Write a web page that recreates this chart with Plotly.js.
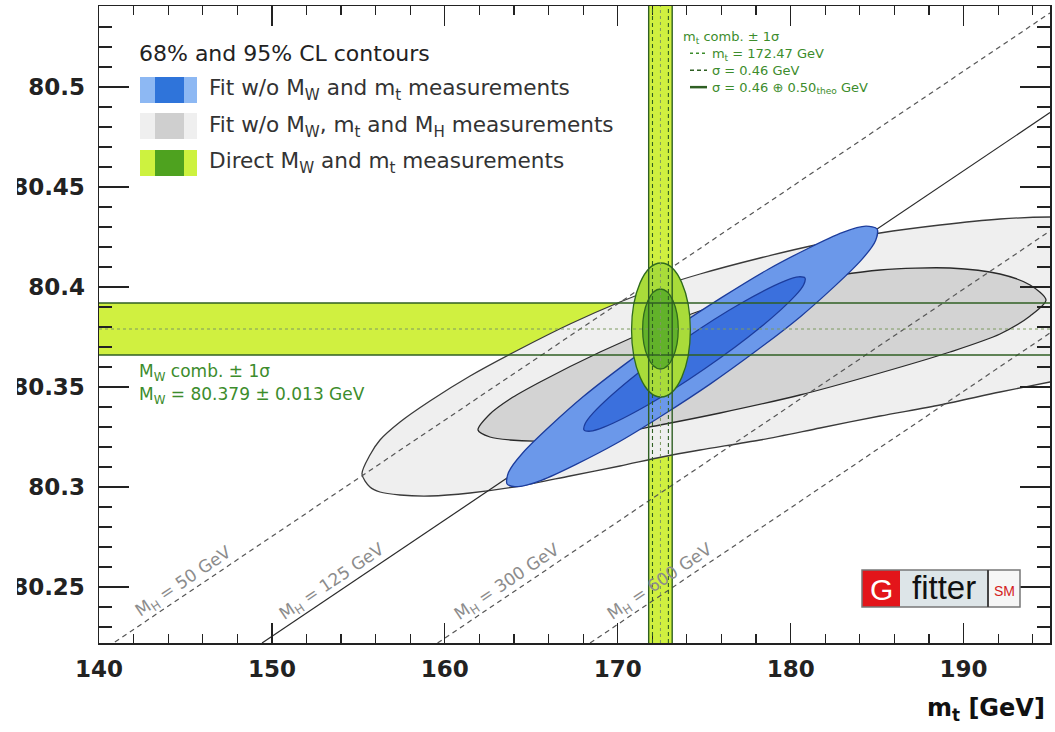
<!DOCTYPE html>
<html><head><meta charset="utf-8">
<script src="https://cdn.plot.ly/plotly-3.0.1.min.js"></script>
<style>html,body{margin:0;padding:0;background:#fff}#chart{width:1055px;height:732px}</style>
</head><body><div id="chart"></div>
<script>
// ---------------- data ----------------
const xRange = [140, 195];
const yRange = [80.222, 80.5405];

const mwComb = 80.379, mwCombErr = 0.013;
const mtComb = 172.47, mtCombErrExp = 0.46, mtCombErrTheo = 0.50, mtCombErrTot = 0.68;

// direct MW / mt contours (95% and 68% extents)
const directMt95 = [170.80, 174.20], directMw95 = [80.345, 80.412];
const directMt68 = [171.44, 173.50], directMw68 = [80.359, 80.399];

// fit w/o MW, mt and MH : 95% CL outline
const greyOuterMt = [178.23,181.70,185.17,188.64,192.11,195.00,197.89,203.68,208.31,210.39,208.31,203.68,197.89,195.00,192.11,188.64,185.17,181.70,178.23,174.76,172.56,170.13,167.24,164.35,161.46,159.14,157.41,156.25,155.67,155.21,155.67,156.25,157.41,159.14,161.46,164.35,167.24,170.13,172.56,174.76,178.23];
const greyOuterMw = [80.4145,80.4215,80.427,80.431,80.434,80.435,80.4345,80.430,80.4205,80.4035,80.3855,80.370,80.3575,80.3525,80.3475,80.341,80.3355,80.3295,80.3235,80.3185,80.315,80.3105,80.3055,80.3005,80.297,80.2955,80.296,80.2975,80.300,80.3065,80.316,80.3235,80.3325,80.343,80.3555,80.369,80.3815,80.3925,80.4005,80.4065,80.4145];
// fit w/o MW, mt and MH : 68% CL outline
const greyInnerMt = [175.92,180.54,185.17,189.22,192.11,193.85,194.77,193.85,192.11,189.22,185.17,180.54,175.92,172.45,168.98,165.51,163.77,162.61,161.92,162.61,163.77,165.51,168.98,172.45,175.92];
const greyInnerMw = [80.3915,80.4025,80.4085,80.4095,80.4065,80.401,80.3935,80.3855,80.3765,80.3675,80.357,80.346,80.337,80.331,80.3255,80.323,80.3235,80.325,80.3285,80.3365,80.344,80.3525,80.3675,80.3805,80.3915];
// fit w/o MW and mt : 95% CL outline
const blueOuterMt = [175.38,169.88,165.58,164.25,163.60,163.68,164.49,168.01,173.22,178.71,183.02,184.36,185.00,184.92,184.11,180.58,175.38];
const blueOuterMw = [80.3517,80.3216,80.3033,80.3002,80.3015,80.3072,80.3169,80.3452,80.3789,80.4089,80.4273,80.4304,80.4290,80.4234,80.4137,80.3853,80.3517];
// fit w/o MW and mt : 68% CL outline
const blueInnerMt = [175.03,171.76,169.20,168.42,168.05,168.12,168.61,170.73,173.85,177.13,179.68,180.46,180.83,180.76,180.27,178.15,175.03];
const blueInnerMw = [80.3591,80.3411,80.3299,80.3279,80.3285,80.3317,80.3373,80.3539,80.3739,80.3919,80.4031,80.4051,80.4045,80.4013,80.3957,80.3791,80.3591];

// SM prediction lines for fixed MH
const mhValues = [50, 125, 300, 600];
const mhLineMt = [[140.92, 195.0], [149.43, 195.0], [159.58, 195.0], [168.40, 195.0]];
const mhLineMw = [[80.2225, 80.537], [80.222, 80.4872], [80.222, 80.428], [80.222, 80.377]];
const mhLabelMw = 80.2525;

// ---------------- helpers ----------------
const L = 99, R = 1050, T = 6, B = 643;
const px = x => (x - L) / (R - L);
const py = y => (B - y) / (B - T);
const FONT = 'DejaVu Sans';
const green = '#3c8c2c';
const bandColor = '#d0f040';
const bandLine = '#2f5f23';

const traces = [];
function contour(mt, mw, fill, line, w) {
  return {type: 'scatter', mode: 'lines', x: mt, y: mw, fill: 'toself', fillcolor: fill,
    line: {color: line, width: w, shape: 'spline', smoothing: 0.8}, hoverinfo: 'skip', showlegend: false};
}
traces.push(contour(greyOuterMt, greyOuterMw, '#efefef', '#3a3a3a', 1.3));
traces.push(contour(greyInnerMt, greyInnerMw, '#d3d3d3', '#2a2a2a', 1.3));

const annotations = [];
mhValues.forEach((mh, i) => {
  const solid = mh === 125;
  traces.push({type: 'scatter', mode: 'lines', x: mhLineMt[i], y: mhLineMw[i],
    line: {color: solid ? '#2a2a2a' : '#555555', width: 1.2, dash: solid ? 'solid' : '5px,4px'},
    hoverinfo: 'skip', showlegend: false});
  const slope = (mhLineMw[i][1] - mhLineMw[i][0]) / (mhLineMt[i][1] - mhLineMt[i][0]);
  const mtAt = mhLineMt[i][0] + (mhLabelMw - mhLineMw[i][0]) / slope;
  annotations.push({xref: 'x', yref: 'y', x: mtAt - 1.2, y: mhLabelMw, text: 'M<sub>H</sub> = ' + mh + ' GeV',
    showarrow: false, textangle: -34, font: {family: FONT, size: 17, color: '#8c8c8c'}});
});

traces.push(contour(blueOuterMt, blueOuterMw, '#6b98ea', '#1c3c9c', 1.3));
traces.push(contour(blueInnerMt, blueInnerMw, '#3b70dd', '#1c3c9c', 1.3));

const shapes = [];
// band fills (below the contours)
shapes.push({type: 'rect', xref: 'x', yref: 'y', x0: xRange[0], x1: xRange[1], y0: mwComb - mwCombErr, y1: mwComb + mwCombErr,
  fillcolor: bandColor, line: {width: 0}, layer: 'below'});
shapes.push({type: 'rect', xref: 'x', yref: 'y', x0: mtComb - mtCombErrTot, x1: mtComb + mtCombErrTot, y0: yRange[0], y1: yRange[1],
  fillcolor: bandColor, line: {width: 0}, layer: 'below'});
// direct measurement contours
shapes.push({type: 'circle', xref: 'x', yref: 'y', x0: directMt95[0], x1: directMt95[1], y0: directMw95[0], y1: directMw95[1],
  fillcolor: '#a9dc3a', line: {color: '#2f6b1d', width: 1.3}, layer: 'above'});
shapes.push({type: 'circle', xref: 'x', yref: 'y', x0: directMt68[0], x1: directMt68[1], y0: directMw68[0], y1: directMw68[1],
  fillcolor: '#62b22a', line: {color: '#2f6b1d', width: 1.3}, layer: 'above'});
// band lines
function hline(y, dash, w, c) { shapes.push({type: 'line', xref: 'x', yref: 'y', x0: xRange[0], x1: xRange[1], y0: y, y1: y, line: {color: c, width: w, dash: dash}, layer: 'above'}); }
function vline(x, dash, w, c) { shapes.push({type: 'line', xref: 'x', yref: 'y', x0: x, x1: x, y0: yRange[0], y1: yRange[1], line: {color: c, width: w, dash: dash}, layer: 'above'}); }
hline(mwComb - mwCombErr, 'solid', 1.4, bandLine);
hline(mwComb + mwCombErr, 'solid', 1.4, bandLine);
hline(mwComb, 'dot', 1, '#7d9a60');
vline(mtComb - mtCombErrTot, 'solid', 1.4, bandLine);
vline(mtComb + mtCombErrTot, 'solid', 1.4, bandLine);
vline(mtComb - mtCombErrExp, '4px,3px', 1.1, bandLine);
vline(mtComb + mtCombErrExp, '4px,3px', 1.1, bandLine);
vline(mtComb, 'dot', 1, '#7d9a60');

// paper-coordinate helpers
function prect(x0, x1, y0, y1, fill, line) {
  shapes.push({type: 'rect', xref: 'paper', yref: 'paper', x0: px(x0), x1: px(x1), y0: py(y1), y1: py(y0),
    fillcolor: fill, line: line || {width: 0}, layer: 'above'});
}
function pline(x0, x1, y, dash, w, c) {
  shapes.push({type: 'line', xref: 'paper', yref: 'paper', x0: px(x0), x1: px(x1), y0: py(y), y1: py(y),
    line: {color: c, width: w, dash: dash}, layer: 'above'});
}
function ptext(text, x, y, size, color, xanchor, extra) {
  annotations.push(Object.assign({xref: 'paper', yref: 'paper', x: px(x), y: py(y), text: text, showarrow: false,
    xanchor: xanchor || 'left', yanchor: 'middle', borderpad: 0, font: {family: FONT, size: size, color: color}}, extra || {}));
}

// top-left legend
ptext('68% and 95% CL contours', 138, 53, 22, '#222');
const legendRows = [
  {y: 90, outer: '#8db8f3', inner: '#2f74da', text: 'Fit w/o M<sub>W</sub> and m<sub>t</sub> measurements'},
  {y: 126, outer: '#efefef', inner: '#cfcfcf', text: 'Fit w/o M<sub>W</sub>, m<sub>t</sub> and M<sub>H</sub> measurements'},
  {y: 163, outer: '#cdf23f', inner: '#4ea21f', text: 'Direct M<sub>W</sub> and m<sub>t</sub> measurements'}
];
legendRows.forEach(r => {
  prect(140, 197, r.y - 13, r.y + 13, r.outer);
  prect(155, 184, r.y - 13, r.y + 13, r.inner);
  ptext(r.text, 208, r.y, 21.6, '#333');
});

// top-right legend (mt combination) as one multi-line text block
const trSize = 13, trTop = 28, trStep = trSize * 1.3;
const ind = '\u00a0'.repeat(7);
const trLines = [
  'm<sub>t</sub> comb. ± 1σ',
  ind + 'm<sub>t</sub> = ' + mtComb.toFixed(2) + ' GeV',
  ind + 'σ = ' + mtCombErrExp.toFixed(2) + ' GeV',
  ind + 'σ = ' + mtCombErrExp.toFixed(2) + ' ⊕ ' + mtCombErrTheo.toFixed(2) + '<sub>theo</sub> GeV'
];
annotations.push({xref: 'paper', yref: 'paper', x: px(682), y: py(trTop), text: trLines.join('<br>'), showarrow: false,
  xanchor: 'left', yanchor: 'top', align: 'left', borderpad: 0, font: {family: FONT, size: trSize, color: green}});
const lineY = k => trTop + trStep * (k + 0.5);
pline(690, 706, lineY(1), 'dot', 1.5, green);
pline(690, 707, lineY(2), '4px,3px', 1.5, bandLine);
pline(690, 707, lineY(3), 'solid', 2.5, bandLine);

// MW combination text
ptext('M<sub>W</sub> comb. ± 1σ', 138, 372, 17, green);
ptext('M<sub>W</sub> = ' + mwComb.toFixed(3) + ' ± ' + mwCombErr.toFixed(3) + ' GeV', 138, 395, 17, green);

// Gfitter logo
prect(862, 900, 570, 607, '#e3151a');
prect(900, 988, 570, 607, '#dde5e8');
prect(988, 1020, 570, 607, '#f6f6f6');
prect(862, 1020, 570, 607, 'rgba(0,0,0,0)', {color: '#777', width: 1.5});
shapes.push({type: 'line', xref: 'paper', yref: 'paper', x0: px(988), x1: px(988), y0: py(607), y1: py(570), line: {color: '#444', width: 2}, layer: 'above'});
ptext('G', 881, 589, 30, '#ffffff', 'center', {font: {family: 'Liberation Sans', size: 30, color: '#ffffff'}});
ptext('fitter', 944, 587, 33, '#111', 'center', {font: {family: 'Liberation Sans', size: 33, color: '#111'}});
ptext('SM', 1004, 591, 14, '#d42020', 'center', {font: {family: 'Liberation Sans', size: 14, color: '#d42020'}});

// x-axis title
ptext('m<sub>t</sub> [GeV]', 1046, 709, 24, '#111', 'right', {font: {family: FONT, size: 24, color: '#111', weight: 'bold'}});

// crop of the far left edge (as in the reference)
prect(-1, 17, -5, 740, '#ffffff');

const tickFont = {family: FONT, size: 23, color: '#222', weight: 'bold'};
const layout = {
  width: 1055, height: 732,
  margin: {l: L, r: 1055 - R, t: T, b: 732 - B, pad: 0},
  paper_bgcolor: '#ffffff', plot_bgcolor: '#ffffff',
  showlegend: false,
  xaxis: {range: xRange, tick0: 140, dtick: 10, ticks: 'inside', ticklen: 20, tickwidth: 1.3, tickcolor: '#222',
    showline: true, linecolor: '#222', linewidth: 1.5, mirror: 'allticks', showgrid: false, zeroline: false,
    minor: {tick0: 140, dtick: 2, ticks: 'inside', ticklen: 9, tickwidth: 1.2, tickcolor: '#222', showgrid: false},
    tickfont: tickFont, ticklabelstandoff: 5, fixedrange: true},
  yaxis: {range: yRange, tick0: 80.25, dtick: 0.05, ticks: 'inside', ticklen: 30, tickwidth: 1.3, tickcolor: '#222',
    showline: true, linecolor: '#222', linewidth: 1.5, mirror: 'allticks', showgrid: false, zeroline: false,
    minor: {tick0: 80.25, dtick: 0.01, ticks: 'inside', ticklen: 13, tickwidth: 1.2, tickcolor: '#222', showgrid: false},
    tickfont: tickFont, ticklabelstandoff: 8, fixedrange: true},
  shapes: shapes,
  annotations: annotations
};
Plotly.newPlot('chart', traces, layout, {displayModeBar: false, staticPlot: true});
</script>
</body></html>
